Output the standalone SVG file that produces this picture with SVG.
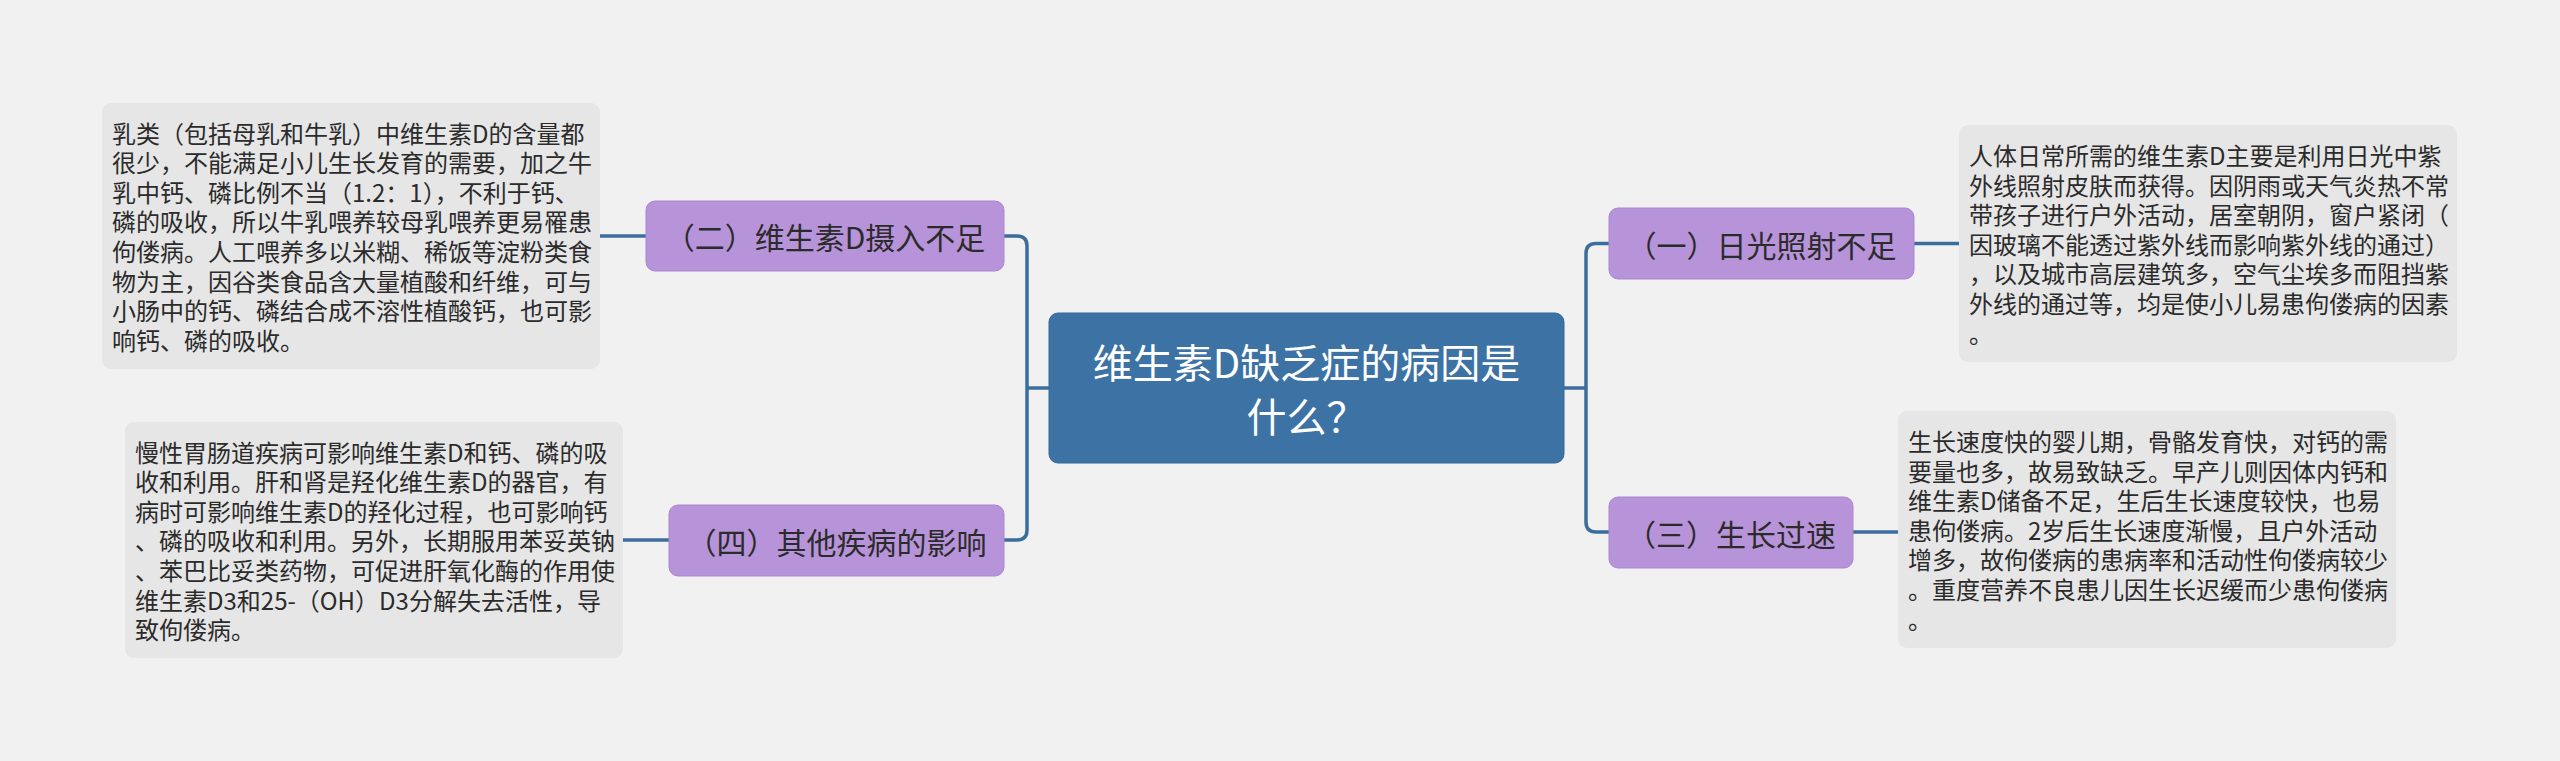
<svg xmlns="http://www.w3.org/2000/svg" width="2560" height="761" viewBox="0 0 2560 761">
<style>
.bg{fill:#f1f1f1}
.root{fill:#3d72a4;stroke:#35689a;stroke-width:1}
.root-t{fill:#ffffff;font-family:"Noto Sans CJK SC","Noto Sans",sans-serif;font-size:40px;text-anchor:middle;dominant-baseline:central}
.branch{fill:#b793d9;stroke:#a987cf;stroke-width:1}
.branch-t{fill:#2b2b2b;font-family:"Noto Sans CJK SC","Noto Sans",sans-serif;font-size:30px;text-anchor:middle;dominant-baseline:central}
.leaf{fill:#e6e6e6}
.leaf-t{fill:#2b2b2b;font-family:"Noto Sans CJK SC","Noto Sans",sans-serif;font-size:24px;dominant-baseline:central}
.conn{fill:none;stroke:#3c6e9c;stroke-width:3.5}
</style>
<rect class="bg" x="0" y="0" width="2560" height="761"/>
<g id="connectors">
<path class="conn" d="M1004,236 H1017 Q1027,236 1027,246 V530 Q1027,540 1017,540 H1004"/>
<path class="conn" d="M1027,388 H1049"/>
<path class="conn" d="M1609,243.5 H1596 Q1586,243.5 1586,253.5 V522 Q1586,532 1596,532 H1609"/>
<path class="conn" d="M1564,388 H1586"/>
<path class="conn" d="M646,236 H600"/>
<path class="conn" d="M669,540 H623"/>
<path class="conn" d="M1914,243.5 H1959"/>
<path class="conn" d="M1853,532 H1898"/>
</g>
<g id="root">
<rect class="root" x="1049" y="313" width="515" height="150" rx="9"/>
<text class="root-t" x="1306.5" y="361">维生素D缺乏症的病因是</text>
<text class="root-t" x="1306.5" y="415">什么？</text>
</g>
<g id="n1">
<rect class="branch" x="1609" y="208" width="305" height="71" rx="9"/>
<text class="branch-t" x="1761.5" y="243.5">（一）日光照射不足</text>
</g>
<g id="n2">
<rect class="branch" x="646" y="201" width="358" height="70" rx="9"/>
<text class="branch-t" x="825" y="236">（二）维生素D摄入不足</text>
</g>
<g id="n3">
<rect class="branch" x="1609" y="497" width="244" height="71" rx="9"/>
<text class="branch-t" x="1731" y="532.5">（三）生长过速</text>
</g>
<g id="n4">
<rect class="branch" x="669" y="505" width="335" height="71" rx="9"/>
<text class="branch-t" x="836.5" y="540.5">（四）其他疾病的影响</text>
</g>
<g id="leaf2">
<rect class="leaf" x="102" y="103" width="498" height="266" rx="9"/>
<text class="leaf-t" x="112" y="132">乳类（包括母乳和牛乳）中维生素D的含量都</text>
<text class="leaf-t" x="112" y="161.6">很少，不能满足小儿生长发育的需要，加之牛</text>
<text class="leaf-t" x="112" y="191.2">乳中钙、磷比例不当（1.2：1），不利于钙、</text>
<text class="leaf-t" x="112" y="220.8">磷的吸收，所以牛乳喂养较母乳喂养更易罹患</text>
<text class="leaf-t" x="112" y="250.4">佝偻病。人工喂养多以米糊、稀饭等淀粉类食</text>
<text class="leaf-t" x="112" y="280">物为主，因谷类食品含大量植酸和纤维，可与</text>
<text class="leaf-t" x="112" y="309.6">小肠中的钙、磷结合成不溶性植酸钙，也可影</text>
<text class="leaf-t" x="112" y="339.2">响钙、磷的吸收。</text>
</g>
<g id="leaf4">
<rect class="leaf" x="125" y="422" width="498" height="236" rx="9"/>
<text class="leaf-t" x="135" y="451">慢性胃肠道疾病可影响维生素D和钙、磷的吸</text>
<text class="leaf-t" x="135" y="480.6">收和利用。肝和肾是羟化维生素D的器官，有</text>
<text class="leaf-t" x="135" y="510.2">病时可影响维生素D的羟化过程，也可影响钙</text>
<text class="leaf-t" x="135" y="539.8">、磷的吸收和利用。另外，长期服用苯妥英钠</text>
<text class="leaf-t" x="135" y="569.4">、苯巴比妥类药物，可促进肝氧化酶的作用使</text>
<text class="leaf-t" x="135" y="599">维生素D3和25-（OH）D3分解失去活性，导</text>
<text class="leaf-t" x="135" y="628.6">致佝偻病。</text>
</g>
<g id="leaf1">
<rect class="leaf" x="1959" y="125" width="498" height="237" rx="9"/>
<text class="leaf-t" x="1969" y="154.5">人体日常所需的维生素D主要是利用日光中紫</text>
<text class="leaf-t" x="1969" y="184.1">外线照射皮肤而获得。因阴雨或天气炎热不常</text>
<text class="leaf-t" x="1969" y="213.7">带孩子进行户外活动，居室朝阴，窗户紧闭（</text>
<text class="leaf-t" x="1969" y="243.3">因玻璃不能透过紫外线而影响紫外线的通过）</text>
<text class="leaf-t" x="1969" y="272.9">，以及城市高层建筑多，空气尘埃多而阻挡紫</text>
<text class="leaf-t" x="1969" y="302.5">外线的通过等，均是使小儿易患佝偻病的因素</text>
<text class="leaf-t" x="1969" y="332.1">。</text>
</g>
<g id="leaf3">
<rect class="leaf" x="1898" y="411" width="498" height="237" rx="9"/>
<text class="leaf-t" x="1908" y="440.5">生长速度快的婴儿期，骨骼发育快，对钙的需</text>
<text class="leaf-t" x="1908" y="470.1">要量也多，故易致缺乏。早产儿则因体内钙和</text>
<text class="leaf-t" x="1908" y="499.7">维生素D储备不足，生后生长速度较快，也易</text>
<text class="leaf-t" x="1908" y="529.3">患佝偻病。2岁后生长速度渐慢，且户外活动</text>
<text class="leaf-t" x="1908" y="558.9">增多，故佝偻病的患病率和活动性佝偻病较少</text>
<text class="leaf-t" x="1908" y="588.5">。重度营养不良患儿因生长迟缓而少患佝偻病</text>
<text class="leaf-t" x="1908" y="618.1">。</text>
</g>
</svg>
